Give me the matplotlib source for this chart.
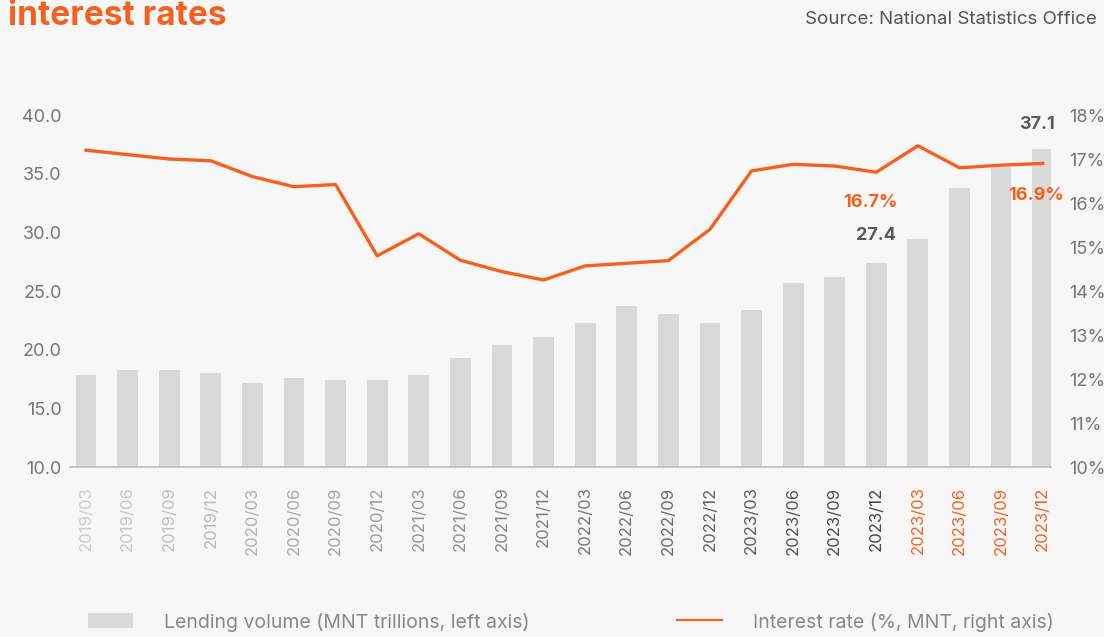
import numpy as np
import matplotlib.pyplot as plt
from matplotlib.colors import to_rgb
from matplotlib.patches import Patch
from matplotlib.lines import Line2D

plt.rcParams['font.family'] = ['Inter', 'DejaVu Sans']

# Data
quarters = ["2019/03", "2019/06", "2019/09", "2019/12",
            "2020/03", "2020/06", "2020/09", "2020/12",
            "2021/03", "2021/06", "2021/09", "2021/12",
            "2022/03", "2022/06", "2022/09", "2022/12",
            "2023/03", "2023/06", "2023/09", "2023/12",
            "2023/03", "2023/06", "2023/09", "2023/12"]
lending = [17.8, 18.3, 18.3, 18.0, 17.2, 17.6, 17.4, 17.4, 17.8, 19.3, 20.4, 21.1,
           22.3, 23.7, 23.0, 22.3, 23.4, 25.7, 26.2, 27.4, 29.4, 33.8, 35.6, 37.1]
rate = [17.2, 17.1, 17.0, 16.96, 16.6, 16.37, 16.42, 14.8, 15.3, 14.7, 14.44, 14.25,
        14.57, 14.63, 14.69, 15.4, 16.73, 16.88, 16.84, 16.7, 17.3, 16.8, 16.86, 16.9]

ORANGE = "#f5601e"
BAR = "#d9d9d9"
BG = "#f7f7f7"

fig = plt.figure(figsize=(11.04, 6.37), dpi=100, facecolor=BG)
ax = fig.add_axes([70 / 1104, 1 - 467 / 637, 981 / 1104, 352 / 637])
ax.set_facecolor("none")
x = np.arange(len(quarters))

ax.bar(x, lending, width=0.5, color=BAR, zorder=1)
ax.set_xlim(-0.385, 23.2)
ax.set_ylim(10, 40)
ax.set_yticks(np.arange(10, 41, 5))
ax.set_yticklabels([f"{v:.1f}" for v in np.arange(10, 41, 5)])

for s in ["top", "right", "left"]:
    ax.spines[s].set_visible(False)
ax.spines["bottom"].set_color("#bdbdbd")
ax.spines["bottom"].set_linewidth(1.2)
ax.tick_params(axis="y", length=0, labelsize=13, labelcolor="#777777", pad=6)
ax.tick_params(axis="x", length=0, labelsize=12, pad=14)
ax.set_xticks(x)
ax.set_xticklabels(quarters, rotation=90)

# tick label colours: light grey to dark grey, last four orange
c0 = np.array(to_rgb("#cdcdcd"))
c1 = np.array(to_rgb("#454545"))
for i, lab in enumerate(ax.get_xticklabels()):
    if i >= 20:
        lab.set_color(ORANGE)
    else:
        t = i / 19
        lab.set_color(tuple(c0 + (c1 - c0) * t))

ax2 = ax.twinx()
ax2.set_ylim(10, 18)
ax2.set_yticks(range(10, 19))
ax2.set_yticklabels([f"{v}%" for v in range(10, 19)])
for s in ax2.spines.values():
    s.set_visible(False)
ax2.tick_params(axis="y", length=0, labelsize=13, labelcolor="#777777", pad=13)
ax2.plot(x, rate, color=ORANGE, lw=2.4, solid_joinstyle="round", zorder=3)

# value labels
ax.annotate(f"{lending[19]:.1f}", (x[19], lending[19]), xytext=(0, 20), textcoords="offset points",
            ha="center", va="center", fontsize=13, fontweight="bold", color="#5a5a5a")
ax.annotate(f"{lending[23]:.1f}", (x[23], lending[23]), xytext=(-4, 18), textcoords="offset points",
            ha="center", va="center", fontsize=13, fontweight="bold", color="#5a5a5a")
ax2.annotate(f"{rate[19]:.1f}%", (x[19], rate[19]), xytext=(-4, -22), textcoords="offset points",
             ha="center", va="center", fontsize=13, fontweight="bold", color=ORANGE)
ax2.annotate(f"{rate[23]:.1f}%", (x[23], rate[23]), xytext=(-5, -23), textcoords="offset points",
             ha="center", va="center", fontsize=13, fontweight="bold", color=ORANGE)

# title and source
fig.text(8 / 1104, 1 - 16 / 637, "interest rates", fontsize=24, fontweight="bold",
         color=ORANGE, ha="left", va="center")
fig.text(1097 / 1104, 1 - 20 / 637, "Source: National Statistics Office", fontsize=13.5,
         color="#555555", ha="right", va="center")

# legend
handles = [Patch(facecolor=BAR, edgecolor="none"),
           Line2D([0], [0], color=ORANGE, lw=1.6)]
leg = fig.legend(handles, ["Lending volume (MNT trillions, left axis)",
                           "Interest rate (%, MNT, right axis)"],
                 loc="center left", bbox_to_anchor=(88 / 1104, 1 - 622 / 637), ncol=2,
                 frameon=False, borderaxespad=0, borderpad=0,
                 fontsize=14, handlelength=2.3, handleheight=0.8, handletextpad=1.6,
                 columnspacing=7.6, labelcolor="#888888")

fig.savefig("out.png", dpi=100, facecolor=BG)
